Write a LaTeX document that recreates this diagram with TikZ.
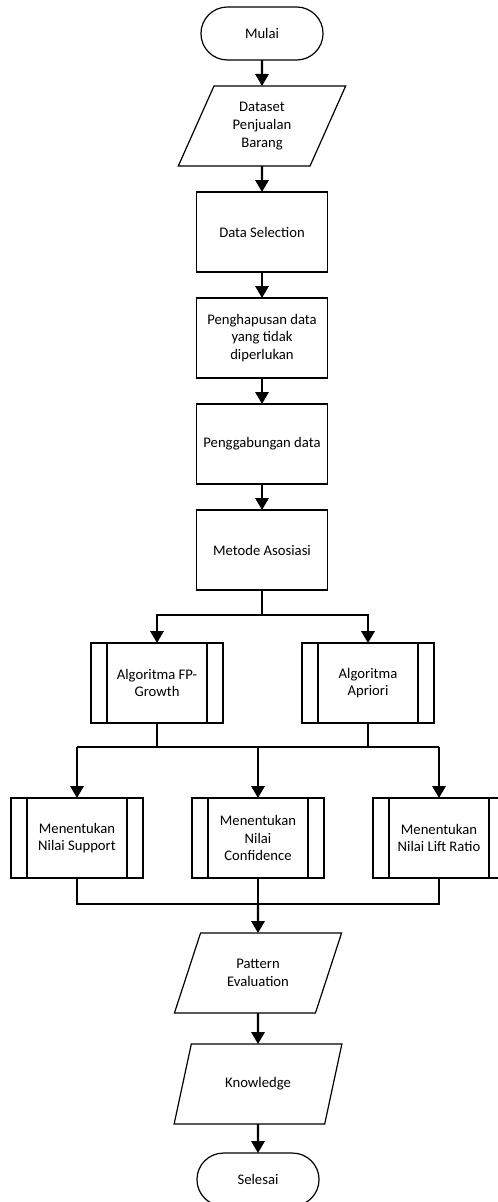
\documentclass[tikz,border=0pt]{standalone}
\usepackage{fontspec}
\setmainfont{Carlito}
\usetikzlibrary{positioning}
\usetikzlibrary{arrows.meta, shapes.geometric, shapes.misc}
\tikzset{
	every node/.style={align=center, font=\fontsize{11pt}{13.3pt}\selectfont, line width=0.9pt, outer sep=0pt},
	terminal/.style={rounded rectangle, draw, minimum width=98.25pt, minimum height=39.75pt},
	proc/.style={rectangle, draw, minimum width=98.25pt, minimum height=60pt},
	io/.style={trapezium, draw, trapezium left angle=66, trapezium right angle=114, trapezium stretches=true, minimum width=126pt, minimum height=60pt},
	subproc/.style={proc, minimum width=99pt, path picture={
		\draw ([xshift=12pt]path picture bounding box.north west) -- ([xshift=12pt]path picture bounding box.south west);
		\draw ([xshift=-12pt]path picture bounding box.north east) -- ([xshift=-12pt]path picture bounding box.south east);}},
	flow/.style={-{Triangle[width=10pt,length=9pt]}, line width=1.6pt},
	link/.style={line width=1.6pt}
}

\begin{document}
\begin{tikzpicture}
	\useasboundingbox (0,0) rectangle (373.5pt,-901.5pt);

	% main column
	\node (mulai) [terminal] at (196.5pt,-25.125pt) {Mulai};
	\node (dataset) [io, below=19.5pt of mulai] {Dataset\\Penjualan\\Barang};
	\node (seleksi) [proc, below=19.5pt of dataset] {Data Selection};
	\node (hapus) [proc, below=19.5pt of seleksi] {Penghapusan data\\yang tidak\\diperlukan};
	\node (gabung) [proc, below=19.5pt of hapus] {Penggabungan data};
	\node (metode) [proc, below=19.5pt of gabung] {Metode Asosiasi};

	% algoritma
	\node (fp) [subproc, below=39.75pt of metode, xshift=-78.75pt] {Algoritma FP-\\Growth};
	\node (apriori) [subproc, below=39.75pt of metode, xshift=79.5pt] {Algoritma\\Apriori};

	% ukuran
	\node (support) [subproc, below=156pt of metode, xshift=-138.75pt] {Menentukan\\Nilai Support};
	\node (confidence) [subproc, below=156pt of metode, xshift=-3pt] {Menentukan\\Nilai\\Confidence};
	\node (lift) [subproc, below=156pt of metode, xshift=132.75pt] {Menentukan\\Nilai Lift Ratio};

	\node (pattern) [io, below=41.25pt of confidence] {Pattern\\Evaluation};
	\node (knowledge) [io, below=23.25pt of pattern] {Knowledge};
	\node (selesai) [terminal, below=21.75pt of knowledge] {Selesai};

	\coordinate [below=18.75pt of metode] (split1);
	\coordinate [below=18pt of fp] (split2);
	\coordinate [below=19.5pt of confidence] (merge);

	\draw[flow] (mulai) -- (dataset);
	\draw[flow] (dataset) -- (seleksi);
	\draw[flow] (seleksi) -- (hapus);
	\draw[flow] (hapus) -- (gabung);
	\draw[flow] (gabung) -- (metode);

	\draw[link] (metode) -- (split1);
	\draw[flow] (split1) -| (fp);
	\draw[flow] (split1) -| (apriori);

	\draw[link] (fp) -- (split2);
	\draw[link] (apriori) -- (apriori |- split2);
	\draw[link] (support |- split2) -- (lift |- split2);
	\draw[flow] (support |- split2) -- (support);
	\draw[flow] (confidence |- split2) -- (confidence);
	\draw[flow] (lift |- split2) -- (lift);

	\draw[link] (support) -- (support |- merge) -- (lift |- merge) -- (lift);
	\draw[link] (confidence) -- (merge);
	\draw[flow] (merge) -- (pattern);
	\draw[flow] (pattern) -- (knowledge);
	\draw[flow] (knowledge) -- (selesai);
\end{tikzpicture}
\end{document}
